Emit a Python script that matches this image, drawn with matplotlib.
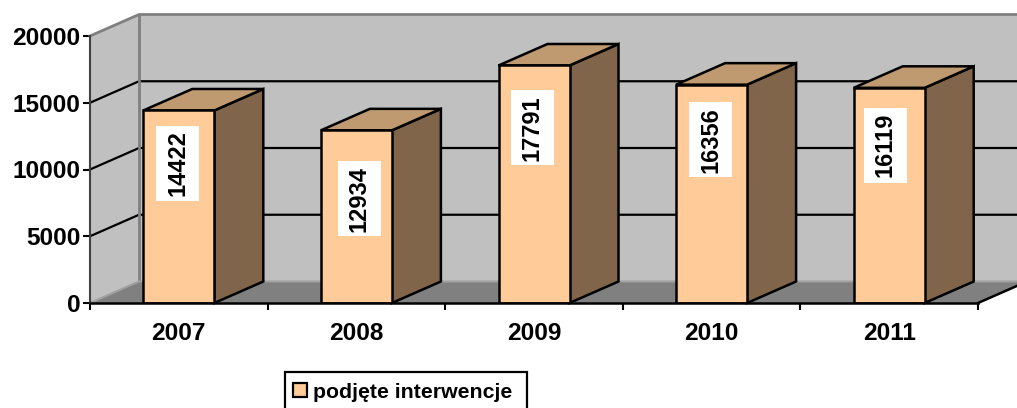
import matplotlib
matplotlib.use("Agg")
import matplotlib.pyplot as plt
from matplotlib.patches import Patch, Polygon, Rectangle

years = ["2007", "2008", "2009", "2010", "2011"]
interventions = [14422, 12934, 17791, 16356, 16119]
y_ticks = [0, 5000, 10000, 15000, 20000]
series_name = "podjęte interwencje"

W, H = 1017, 408
AX_LEFT, AX_RIGHT = 90, 978
AX_TOP, AX_BOTTOM = 36, 303
Y_MAX = 20000

# pixels to data units
PX_X = len(years) / (AX_RIGHT - AX_LEFT)
PX_Y = Y_MAX / (AX_BOTTOM - AX_TOP)
DEPTH_X = 49 * PX_X
DEPTH_Y = 21.5 * PX_Y
BAR_W = 71 * PX_X

# hand placed labels, in pixels from the bar centre / bar top
LABEL_SHIFT = [-1, 3, -2, -1, -4]
LABEL_DROP = [53, 68.5, 62.5, 55, 57.5]
LABEL_BOX = (43, 75)

WALL = "#C0C0C0"
FLOOR = "#808080"
FRONT = "#FFCC99"
TOP = "#BF9970"
SIDE = "#80654A"
EDGE_W = 1.8

plt.rcParams["font.family"] = ["Liberation Sans", "DejaVu Sans"]
plt.rcParams["font.weight"] = "bold"

fig = plt.figure(figsize=(W / 100, H / 100), dpi=100)
ax = fig.add_axes([AX_LEFT / W, 1 - AX_BOTTOM / H, (AX_RIGHT - AX_LEFT) / W, (AX_BOTTOM - AX_TOP) / H])
ax.set_xlim(0, len(years))
ax.set_ylim(0, Y_MAX)
ax.patch.set_visible(False)


def face(points, color, edge="none", lw=0, z=1):
    ax.add_patch(Polygon(points, closed=True, facecolor=color, edgecolor=edge, linewidth=lw,
                         joinstyle="miter", clip_on=False, zorder=z))


x_end = len(years)
# walls and floor
face([(0, 0), (DEPTH_X, DEPTH_Y), (DEPTH_X, Y_MAX + DEPTH_Y), (0, Y_MAX)], WALL)
face([(DEPTH_X, DEPTH_Y), (x_end + DEPTH_X, DEPTH_Y), (x_end + DEPTH_X, Y_MAX + DEPTH_Y), (DEPTH_X, Y_MAX + DEPTH_Y)], WALL)
face([(0, 0), (x_end, 0), (x_end + DEPTH_X, DEPTH_Y), (DEPTH_X, DEPTH_Y)], FLOOR)

for v in y_ticks[1:-1]:
    ax.plot([0, DEPTH_X, x_end + DEPTH_X], [v, v + DEPTH_Y, v + DEPTH_Y], color="black", lw=1.6,
            clip_on=False, zorder=2, solid_joinstyle="miter")

# wall outlines
ax.plot([0, DEPTH_X, x_end + DEPTH_X], [Y_MAX, Y_MAX + DEPTH_Y, Y_MAX + DEPTH_Y], color="#808080", lw=2,
        clip_on=False, zorder=3)
ax.plot([DEPTH_X, DEPTH_X], [DEPTH_Y, Y_MAX + DEPTH_Y], color="#808080", lw=2, clip_on=False, zorder=3)
ax.plot([0, DEPTH_X, x_end + DEPTH_X], [0, DEPTH_Y, DEPTH_Y], color="#A0A0A0", lw=1.5, clip_on=False, zorder=3)
ax.plot([x_end, x_end + DEPTH_X], [0, DEPTH_Y], color="black", lw=EDGE_W, clip_on=False, zorder=3)

# bars
positions = [i + 0.5 for i in range(len(years))]
for x, val in zip(positions, interventions):
    left, right = x - BAR_W / 2, x + BAR_W / 2
    face([(right, 0), (right + DEPTH_X, DEPTH_Y), (right + DEPTH_X, val + DEPTH_Y), (right, val)],
         SIDE, "black", EDGE_W, 4)
    face([(left, val), (right, val), (right + DEPTH_X, val + DEPTH_Y), (left + DEPTH_X, val + DEPTH_Y)],
         TOP, "black", EDGE_W, 4)
ax.bar(positions, interventions, width=BAR_W, color=FRONT, edgecolor="black", linewidth=EDGE_W, zorder=5)

# value labels on white boxes
for x, val, shift, drop in zip(positions, interventions, LABEL_SHIFT, LABEL_DROP):
    cx = x + shift * PX_X
    cy = val - drop * PX_Y
    box_w, box_h = LABEL_BOX[0] * PX_X, LABEL_BOX[1] * PX_Y
    ax.add_patch(Rectangle((cx - box_w / 2, cy - box_h / 2), box_w, box_h, facecolor="white",
                           edgecolor="none", zorder=6))
    ax.text(cx, cy, str(val), rotation=90, ha="center", va="center", rotation_mode="anchor",
            fontsize=17, zorder=7)

# axes
ax.set_yticks(y_ticks)
ax.set_xticks(range(len(years) + 1))
ax.set_xticklabels([])
ax.set_xticks(positions, minor=True)
ax.set_xticklabels(years, minor=True)
ax.tick_params(axis="x", which="minor", length=0, labelsize=17.6, pad=14)
ax.tick_params(axis="x", which="major", length=5, width=1.5)
ax.tick_params(axis="y", length=5, width=1.5, labelsize=17.6, pad=2)
ax.spines[["top", "right"]].set_visible(False)
ax.spines["left"].set_linewidth(1.5)
ax.spines["left"].set_color("#404040")
ax.spines["bottom"].set_linewidth(EDGE_W)
for s in ax.spines.values():
    s.set_zorder(8)

# legend box runs past the bottom of the picture
fig.add_artist(Rectangle((285 / W, -12 / H), 242 / W, (H - 372 + 12) / H, transform=fig.transFigure,
                         facecolor="white", edgecolor="black", linewidth=1.6))
fig.legend(handles=[Patch(facecolor=FRONT, edgecolor="black", linewidth=1.6, label=series_name)],
           loc="upper left", bbox_to_anchor=(293 / W, 1 - 382.5 / H), fontsize=15.3,
           frameon=False, handlelength=0.66, handleheight=0.66,
           handletextpad=0.28, borderpad=0, borderaxespad=0)

fig.savefig("out.png", dpi=100)
